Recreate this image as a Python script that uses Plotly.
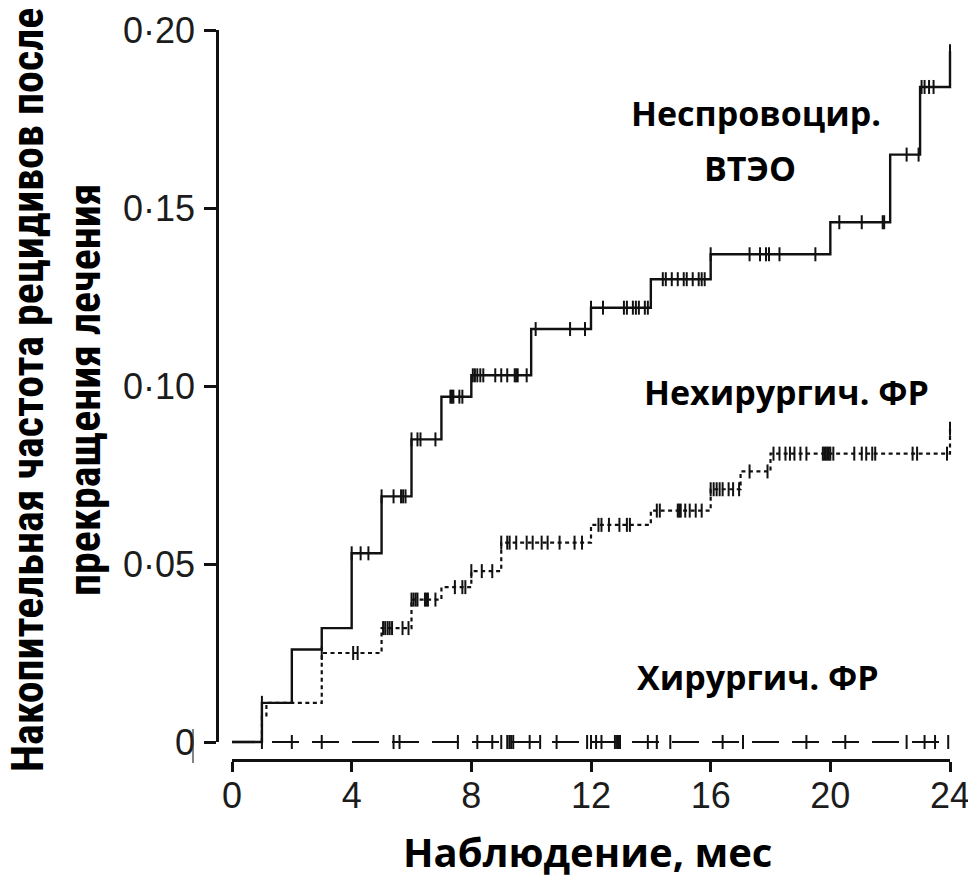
import plotly.graph_objects as go

# ---- data -------------------------------------------------------------
# Unprovoked VTE: step times (months) and cumulative recurrence
vte_t = [0, 1, 2, 3, 4, 5, 6, 7, 8, 10, 12, 14, 16, 20, 22, 23, 24]
vte_v = [0, 0.011, 0.026, 0.032, 0.053, 0.069, 0.085, 0.097, 0.103,
         0.116, 0.122, 0.130, 0.137, 0.146, 0.165, 0.184, 0.194]
vte_cens = [1.0, 4.0, 4.3, 4.56, 5.0, 5.4, 5.65, 5.72, 5.8, 6.0, 6.2, 6.3,
            6.8, 7.3, 7.35, 7.4, 7.6, 7.7, 8.05, 8.12, 8.2, 8.3, 8.4, 8.8,
            9.0, 9.2, 9.45, 9.5, 9.55, 9.85, 10.15, 11.3, 11.8, 12.0, 12.4,
            13.1, 13.2, 13.4, 13.5, 13.6, 13.8, 13.9, 14.4, 14.5, 14.7, 14.9,
            15.1, 15.2, 15.4, 15.6, 15.7, 15.8, 16.0, 17.3, 17.65, 17.85,
            17.95, 18.3, 19.5, 20.3, 21.05, 21.75, 21.8, 22.55, 22.95,
            23.05, 23.15, 23.3, 23.45, 24.0]

# Non-surgical risk factor
ns_t = [0, 1, 1.15, 3, 5, 6, 7, 8, 9, 12, 14, 16, 17, 18, 24]
ns_v = [0, 0.0075, 0.011, 0.025, 0.032, 0.040, 0.0435, 0.048, 0.056,
        0.061, 0.065, 0.071, 0.076, 0.081, 0.088]
ns_cens = [1.0, 3.0, 4.05, 4.2, 5.05, 5.12, 5.2, 5.27, 5.35, 5.7, 5.9, 6.0,
           6.07, 6.14, 6.2, 6.45, 6.5, 6.55, 6.8, 7.45, 7.7, 7.8, 8.0, 8.35,
           8.7, 9.0, 9.2, 9.28, 9.5, 9.85, 10.05, 10.35, 10.55, 10.95, 11.45,
           11.7, 12.25, 12.35, 12.6, 12.95, 13.2, 13.3, 14.2, 14.3, 14.9,
           14.95, 15.0, 15.15, 15.3, 15.5, 15.7, 16.0, 16.1, 16.2, 16.3, 16.4,
           16.6, 16.75, 16.95, 17.3, 17.9, 18.1, 18.3, 18.5, 18.65, 18.8, 19.0,
           19.2, 19.75, 19.8, 19.85, 19.9, 19.95, 20.0, 20.1, 20.8, 21.05,
           21.2, 21.4, 21.5, 22.75, 22.9, 23.9, 24.0]

# Surgical risk factor (no recurrences)
sur_t = [0, 24]
sur_v = [0, 0]
sur_cens = [1.0, 2.0, 3.0, 5.4, 5.6, 7.55, 8.2, 8.7, 9.0, 9.2, 9.27, 9.33,
            9.4, 9.95, 10.3, 10.85, 11.87, 12.0, 12.17, 12.35, 12.8, 12.87,
            12.93, 12.97, 13.9, 14.2, 14.65, 16.4, 17.08, 19.2, 20.5, 22.55,
            23.15, 23.5, 23.94]

x_ticks = [0, 4, 8, 12, 16, 20, 24]
y_ticks = [0, 0.05, 0.10, 0.15, 0.20]
y_tick_text = ["0", "0·05", "0·10", "0·15", "0·20"]


def step_value(times, values, t):
    """Value of a right-continuous step curve at time t."""
    v = values[0]
    for ti, vi in zip(times, values):
        if ti <= t + 1e-9:
            v = vi
    return v


# ---- layout geometry (pixels) ----------------------------------------
W, H = 968, 878
L, R, T, B = 200, 6, 16, 100
pw, ph = W - L - R, H - T - B
PX_T0, PX_T24 = 232, 950      # x pixel of month 0 and month 24
PY_V0, PY_V20 = 742, 30       # y pixel of 0 and 0.20
X_AXIS_PY = 760               # x-axis line
Y_AXIS_PX = 217               # y-axis line
ppt = (PX_T24 - PX_T0) / 24
ppv = (PY_V0 - PY_V20) / 0.2


def fx(px):
    return (px - L) / pw


def fy(py):
    return (H - B - py) / ph


x_range = [(L - PX_T0) / ppt, (W - R - PX_T0) / ppt]
y_range = [(PY_V0 - (H - B)) / ppv, (PY_V0 - T) / ppv]

INK = "#111111"
TICK_FONT = dict(family="Liberation Sans, Arial, sans-serif", size=36, color="#1c1c1c")
LABEL_FONT = "Open Sans, Noto Sans, sans-serif"

fig = go.Figure()

# curves
fig.add_trace(go.Scatter(x=vte_t, y=vte_v, mode="lines", line_shape="hv",
                         line=dict(color=INK, width=2.4), hoverinfo="skip"))
fig.add_trace(go.Scatter(x=ns_t, y=ns_v, mode="lines", line_shape="hv",
                         line=dict(color=INK, width=2.2, dash="4px,3.5px"),
                         hoverinfo="skip"))
fig.add_trace(go.Scatter(x=sur_t, y=sur_v, mode="lines",
                         line=dict(color=INK, width=2.2, dash="27px,13px"),
                         hoverinfo="skip"))

# censoring ticks
for times, values, cens in [(vte_t, vte_v, vte_cens),
                            (ns_t, ns_v, ns_cens),
                            (sur_t, sur_v, sur_cens)]:
    fig.add_trace(go.Scatter(
        x=cens, y=[step_value(times, values, c) for c in cens],
        mode="markers", cliponaxis=False, hoverinfo="skip",
        marker=dict(symbol="line-ns", size=10,
                    line=dict(color=INK, width=2))))

# empty trace that carries the visible axes
fig.add_trace(go.Scatter(x=[None], y=[None], xaxis="x2", yaxis="y2",
                         hoverinfo="skip"))

axis_common = dict(showgrid=False, zeroline=False, showline=True,
                   linecolor=INK, linewidth=2.5, ticks="outside",
                   tickcolor=INK, tickwidth=2.5, tickfont=TICK_FONT,
                   fixedrange=True, automargin=False,
                   ticklabeloverflow="allow")

fig.update_layout(
    width=W, height=H,
    margin=dict(l=L, r=R, t=T, b=B, pad=0, autoexpand=False),
    paper_bgcolor="white", plot_bgcolor="rgba(0,0,0,0)",
    showlegend=False,
    xaxis=dict(domain=[0, 1], range=x_range, visible=False,
               fixedrange=True, automargin=False),
    yaxis=dict(domain=[0, 1], range=y_range, visible=False,
               fixedrange=True, automargin=False),
    xaxis2=dict(domain=[fx(PX_T0), fx(PX_T24)], range=[0, 24],
                anchor="free", position=fy(X_AXIS_PY),
                tickvals=x_ticks, ticklen=10, ticklabelstandoff=-7,
                **axis_common),
    yaxis2=dict(domain=[fy(PY_V0), fy(PY_V20)], range=[0, 0.2],
                anchor="free", position=fx(Y_AXIS_PX),
                tickvals=y_ticks, ticktext=y_tick_text, ticklen=12,
                ticklabelstandoff=2, **axis_common),
)

# thin bar beside the zero label
fig.add_shape(type="line", xref="paper", yref="paper",
              x0=fx(193), x1=fx(193), y0=fy(729), y1=fy(763),
              line=dict(color="#333333", width=1.2))


def label(text, px, py, size, family=LABEL_FONT, angle=0):
    fig.add_annotation(text=f"<b>{text}</b>", xref="paper", yref="paper",
                       x=fx(px), y=fy(py), xanchor="center", yanchor="middle",
                       showarrow=False, textangle=angle,
                       font=dict(family=family, size=size, color="black"))


label("Неспровоцир.", 756, 113, 34)
label("ВТЭО", 750, 168, 34)
label("Нехирургич. ФР", 786, 392, 34)
label("Хирургич. ФР", 758, 677, 34)
label("Наблюдение, мес", 587, 852, 40)

TITLE_FONT = "Liberation Sans Narrow, Roboto Condensed, Arial Narrow, sans-serif"
label("Накопительная частота рецидивов после", 28, 390, 44, TITLE_FONT, -90)
label("прекращения лечения", 85, 390, 44, TITLE_FONT, -90)

fig.write_html("out.html")
